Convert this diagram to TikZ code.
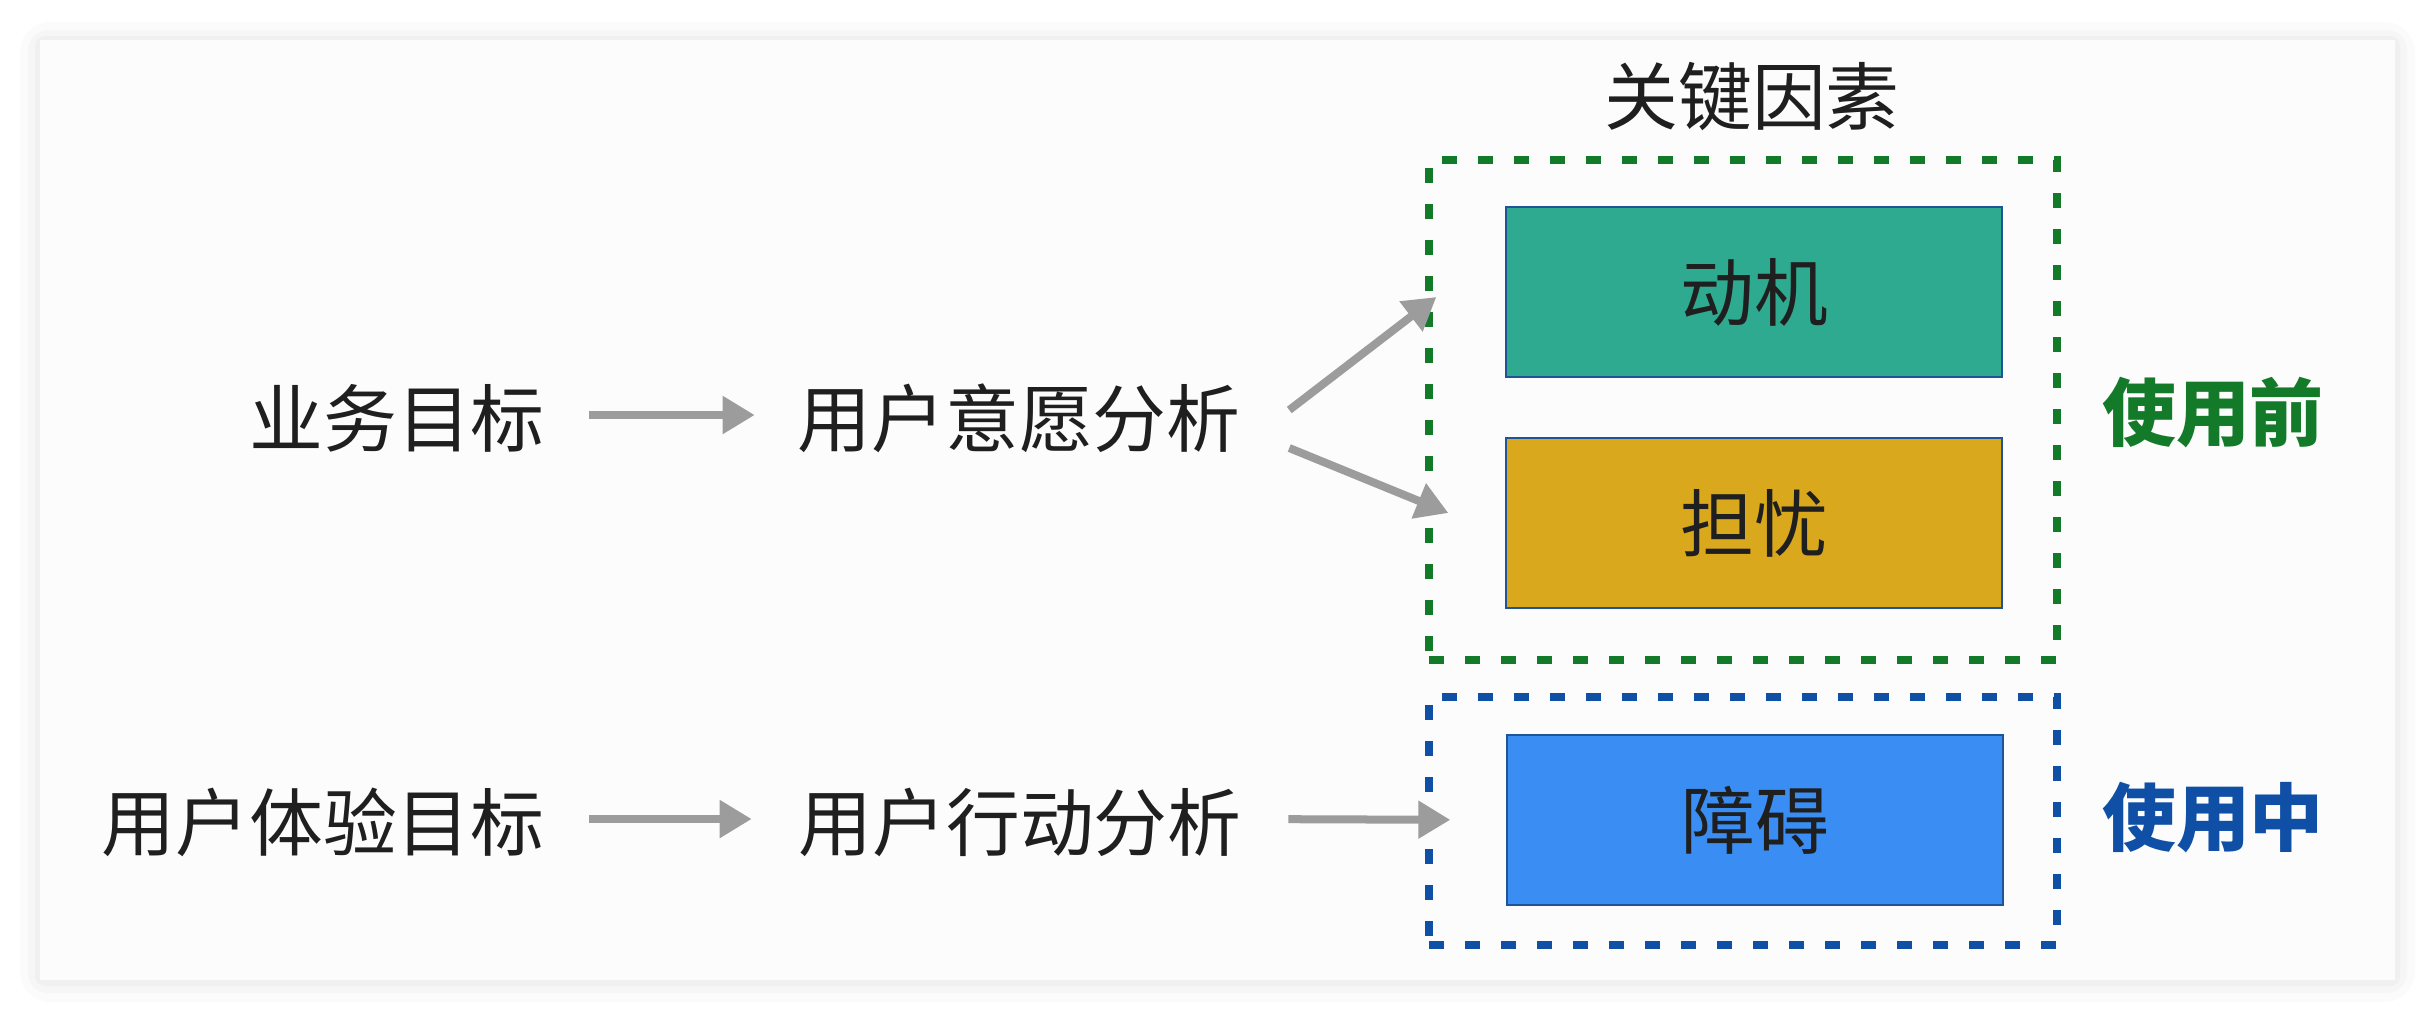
\documentclass[tikz,border=0pt]{standalone}
\usepackage{fontspec}
\setmainfont{Noto Sans CJK SC}
\usetikzlibrary{arrows.meta,calc}
\definecolor{motivegreen}{HTML}{2DAA8F}
\definecolor{worryyellow}{HTML}{D9A81C}
\definecolor{obstacleblue}{HTML}{3A8EF3}
\definecolor{edgeblue}{HTML}{1F5596}
\definecolor{framegreen}{HTML}{137A2A}
\definecolor{frameblue}{HTML}{0F4FA6}
\definecolor{arrowgray}{HTML}{9C9C9C}
\definecolor{cardbg}{HTML}{FCFCFC}
\tikzset{
  plaintext/.style={inner sep=0pt, text height=20pt, text depth=2pt, text=black!88, font=\fontsize{21pt}{25pt}\selectfont},
  factor/.style={draw=edgeblue, line width=0.02cm, minimum width=4.95cm, minimum height=1.7cm, inner sep=0pt, text=black!88, font=\fontsize{21pt}{25pt}\selectfont},
  phaseframe/.style={draw, line width=0.08cm, dash pattern=on 0.15cm off 0.21cm, minimum width=6.28cm, inner sep=0pt},
  phasetext/.style={inner sep=0pt, font=\fontsize{21pt}{25pt}\selectfont\bfseries},
  flow/.style={draw=arrowgray, line width=0.08cm, -{Triangle[length=0.32cm,width=0.36cm]}},
}
\begin{document}
\begin{tikzpicture}[x=0.01cm, y=-0.01cm]
\useasboundingbox (0,0) rectangle (2434,1020);
\fill[white] (0,0) rectangle (2434,1020);
\fill[black, opacity=0.015, rounded corners=0.3cm] (20,22) rectangle (2415,1002);
\fill[black, opacity=0.02, rounded corners=0.2cm] (28,30) rectangle (2407,993);
\fill[black, opacity=0.025, rounded corners=0.1cm] (35,36) rectangle (2400,986);
\fill[cardbg] (40,40) rectangle (2395,980);
\node[plaintext] (keys) at (1752,93){关键因素};
\node[phaseframe, draw=framegreen, minimum height=5.0cm] (before) at (1743,410){};
\node[phaseframe, draw=frameblue, minimum height=2.48cm] (during) at (1743,821){};
\node[factor, fill=motivegreen] (motive) at (1754,292){动机};
\node[factor, fill=worryyellow] (worry) at (1754,523){担忧};
\node[factor, fill=obstacleblue] (obstacle) at (1755,820){障碍};
\node[phasetext, text=framegreen] (beforetext) at (2213,413){使用前};
\node[phasetext, text=frameblue] (duringtext) at (2213,818){使用中};
\node[plaintext] (goal) at (397,415){业务目标};
\node[plaintext] (intent) at (1019,415){用户意愿分析};
\node[plaintext] (uxgoal) at (323,819){用户体验目标};
\node[plaintext] (action) at (1020,819){用户行动分析};
\draw[flow, shorten <=0.44cm, shorten >=0.42cm] (goal.east) -- (intent.west);
\draw[flow] ($(intent.east)+(48,-5)$) -- ($(motive.west)+(-69,5)$);
\draw[flow] ($(intent.east)+(48,33)$) -- ($(worry.west)+(-57,-10)$);
\draw[flow, shorten <=0.44cm, shorten >=0.46cm] (uxgoal.east) -- (action.west);
\draw[flow, shorten <=0.46cm, shorten >=0.56cm] (action.east) -- (obstacle.west);
\end{tikzpicture}
\end{document}
